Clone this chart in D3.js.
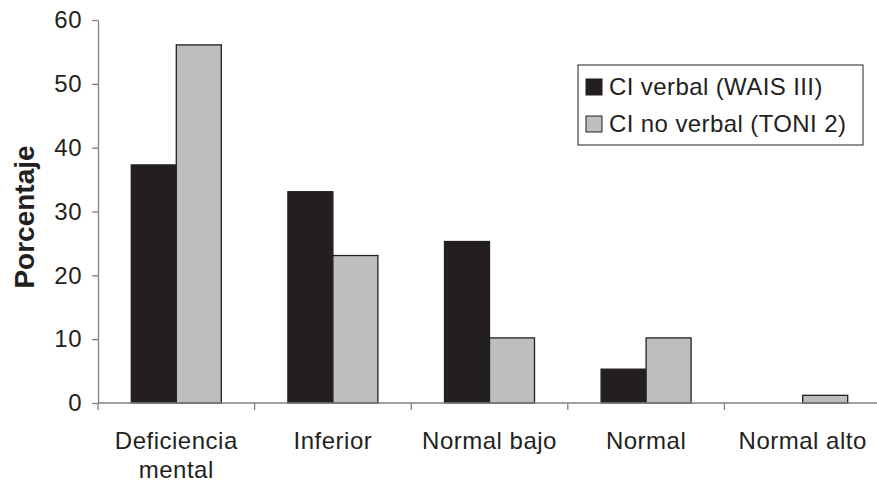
<!DOCTYPE html>
<html>
<head>
<meta charset="utf-8">
<script src="https://cdn.jsdelivr.net/npm/d3@7"></script>
<style>
  body { margin: 0; background: #fff; }
  text { font-family: "Liberation Sans", Arial, sans-serif; fill: #231f20; }
</style>
</head>
<body>
<div id="chart"></div>
<script>
var categories = ["Deficiencia mental", "Inferior", "Normal bajo", "Normal", "Normal alto"];
var series_names = ["CI verbal (WAIS III)", "CI no verbal (TONI 2)"];
var verbal = [37.3, 33.1, 25.3, 5.3, 0];
var no_verbal = [56.1, 23.1, 10.2, 10.2, 1.2];
var y_ticks = [0, 10, 20, 30, 40, 50, 60];
var colors = ["#231f20", "#bcbec0"];

var width = 877, height = 483;
var margin = {left: 98, top: 20, bottom: 80};

var svg = d3.select("#chart")
    .append("svg")
    .attr("width", width)
    .attr("height", height);

var x_axis = d3.scaleBand()
    .domain(categories)
    .range([margin.left, 881])
    .paddingInner(0)
    .paddingOuter(0);

var x_inner = d3.scaleBand()
    .domain([0, 1])
    .range([0, x_axis.bandwidth()])
    .paddingOuter(0.74)
    .paddingInner(0);

var y_axis = d3.scaleLinear()
    .domain([0, 60])
    .range([403, margin.top]);

// y axis
var gy = svg.append("g")
    .attr("transform", `translate(${margin.left},0)`)
    .call(d3.axisLeft(y_axis).tickValues(y_ticks).tickSize(6).tickPadding(10).tickSizeOuter(0));
gy.select(".domain").attr("stroke", "#808080").attr("stroke-width", 1.3);
gy.selectAll(".tick line").attr("stroke", "#808080").attr("stroke-width", 1.3);
gy.selectAll(".tick text")
    .style("font-size", "24px")
    .style("letter-spacing", "0.5px")
    .style("font-family", "Liberation Sans, Arial, sans-serif")
    .attr("fill", "#231f20");

// bars
var rows = categories.map(function(c, i) { return {cat: c, vals: [verbal[i], no_verbal[i]]}; });
var groups = svg.selectAll(".grp")
    .data(rows)
    .enter()
    .append("g")
    .attr("transform", function(d) { return `translate(${x_axis(d.cat)},0)`; });

groups.selectAll("rect")
    .data(function(d) { return d.vals.map(function(v, j) { return {v: v, j: j}; }); })
    .enter()
    .filter(function(d) { return d.v > 0; })
    .append("rect")
    .attr("x", function(d) { return x_inner(d.j); })
    .attr("width", x_inner.bandwidth())
    .attr("y", function(d) { return y_axis(d.v); })
    .attr("height", function(d) { return y_axis(0) - y_axis(d.v); })
    .attr("fill", function(d) { return colors[d.j]; })
    .attr("stroke", "#231f20")
    .attr("stroke-width", 1.3);

// x axis
var gx = svg.append("g")
    .attr("transform", `translate(0,${y_axis(0)})`);
gx.append("line")
    .attr("x1", margin.left).attr("x2", width)
    .attr("stroke", "#808080").attr("stroke-width", 1.3);
var x_ticks = categories.map(function(c) { return x_axis(c); });
gx.selectAll(".xt")
    .data(x_ticks)
    .enter()
    .append("line")
    .attr("x1", function(d) { return d; })
    .attr("x2", function(d) { return d; })
    .attr("y1", 0).attr("y2", 7)
    .attr("stroke", "#808080").attr("stroke-width", 1.3);

var xlab = svg.selectAll(".xlab")
    .data(categories)
    .enter()
    .append("text")
    .attr("x", function(d) { return x_axis(d) + x_axis.bandwidth() / 2; })
    .attr("y", 449)
    .style("text-anchor", "middle")
    .style("font-size", "24px")
    .style("letter-spacing", "0.5px");
xlab.each(function(d) {
    var t = d3.select(this);
    var parts = d === "Deficiencia mental" ? ["Deficiencia", "mental"] : [d];
    parts.forEach(function(p, k) {
        t.append("tspan")
            .attr("x", x_axis(d) + x_axis.bandwidth() / 2)
            .attr("dy", k === 0 ? 0 : 29)
            .text(p);
    });
});

// y label
svg.append("text")
    .attr("transform", `translate(34, 217) rotate(-90)`)
    .style("text-anchor", "middle")
    .style("font-size", "28px")
    .style("font-weight", "bold")
    .text("Porcentaje");

// legend
var legend = svg.append("g");
legend.append("rect")
    .attr("x", 578).attr("y", 65)
    .attr("width", 285).attr("height", 80)
    .attr("fill", "#fff")
    .attr("stroke", "#231f20")
    .attr("stroke-width", 1);
series_names.forEach(function(name, i) {
    var base = 95 + i * 37;
    legend.append("rect")
        .attr("x", 586).attr("y", base - 16)
        .attr("width", 16).attr("height", 16)
        .attr("fill", colors[i])
        .attr("stroke", "#231f20")
        .attr("stroke-width", 1);
    legend.append("text")
        .attr("x", 609).attr("y", base)
        .style("font-size", "24px")
        .style("letter-spacing", "0.4px")
        .text(name);
});
</script>
</body>
</html>
